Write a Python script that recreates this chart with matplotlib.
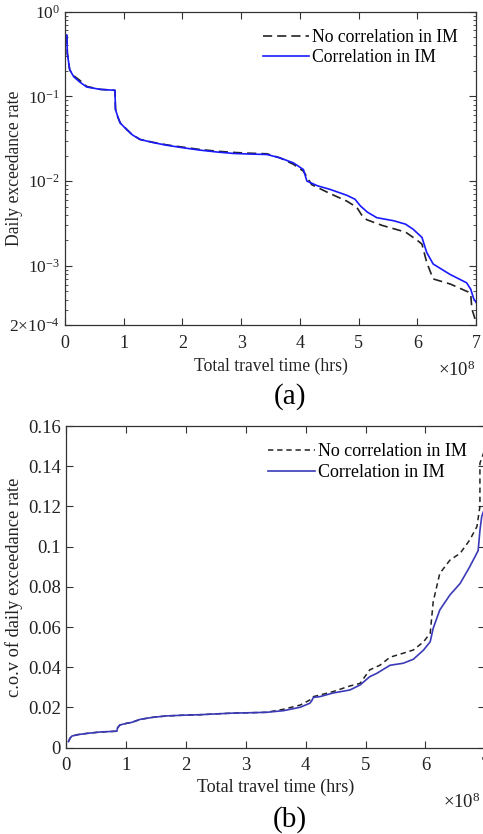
import matplotlib
matplotlib.use("Agg")
import matplotlib.pyplot as plt
from matplotlib.ticker import FixedLocator, LogLocator, NullFormatter

# ---------------------------------------------------------
# DATA (x in units of 1e8 hrs)
# ---------------------------------------------------------
# (a) daily exceedance rate
A_CORR_X = [0.03, 0.04, 0.08, 0.15, 0.25, 0.37, 0.6, 0.85, 0.86, 0.9, 0.94, 1.05,
            1.15, 1.28, 1.5, 1.73, 2.0, 2.3, 2.6, 2.87, 3.1, 3.44, 3.66, 3.89, 4.06,
            4.12, 4.3, 4.51, 4.8, 4.94, 5.03, 5.15, 5.31, 5.6, 5.8, 5.93, 6.08, 6.16,
            6.27, 6.56, 6.84, 6.91, 6.96, 7.0]
A_CORR_Y = [0.53, 0.32, 0.206, 0.17, 0.148, 0.129, 0.121, 0.118, 0.07, 0.057, 0.0486,
            0.0405, 0.035, 0.031, 0.0285, 0.0265, 0.0248, 0.0232, 0.022, 0.0212, 0.0209,
            0.0206, 0.0188, 0.0164, 0.0137, 0.0100, 0.0088, 0.0080, 0.0068, 0.0061,
            0.0051, 0.0043, 0.0037, 0.0034, 0.0031, 0.0027, 0.00216, 0.00144, 0.00105,
            0.00079, 0.00063, 0.00053, 0.00041, 0.00037]

A_NOCORR_X = [0.03, 0.04, 0.08, 0.15, 0.25, 0.37, 0.6, 0.85, 0.86, 0.9, 0.94, 1.05,
              1.15, 1.28, 1.5, 1.73, 2.0, 2.3, 2.6, 2.87, 3.1, 3.44, 3.66, 3.89, 4.06,
              4.2, 4.5, 4.8, 4.97, 5.05, 5.14, 5.4, 5.8, 6.0, 6.08, 6.16, 6.27, 6.56,
              6.87, 6.91, 6.93, 6.98, 7.0]
A_NOCORR_Y = [0.53, 0.32, 0.206, 0.175, 0.155, 0.131, 0.121, 0.118, 0.07, 0.057, 0.0486,
              0.041, 0.035, 0.031, 0.0287, 0.0268, 0.0252, 0.0236, 0.0225, 0.0218,
              0.0214, 0.021, 0.0188, 0.0158, 0.0131, 0.0091, 0.0072, 0.0058, 0.0049,
              0.0040, 0.0035, 0.0030, 0.0025, 0.0020, 0.0018, 0.0011, 0.0007, 0.00061,
              0.00049, 0.00046, 0.00031, 0.00024, 0.00021]

# (b) c.o.v of daily exceedance rate
B_CORR_X = [0.04, 0.07, 0.1, 0.2, 0.35, 0.57, 0.85, 0.86, 0.9, 1.01, 1.1, 1.24, 1.45,
            1.68, 2.0, 2.24, 2.5, 2.79, 3.1, 3.35, 3.63, 3.91, 4.07, 4.1, 4.13, 4.24,
            4.46, 4.74, 4.91, 5.07, 5.19, 5.41, 5.63, 5.80, 5.97, 6.08, 6.13, 6.24,
            6.41, 6.58, 6.74, 6.88, 6.91, 6.94, 7.0]
B_CORR_Y = [0.003, 0.0048, 0.0058, 0.0065, 0.0071, 0.0078, 0.0082, 0.0098, 0.0113,
            0.0121, 0.0126, 0.0141, 0.0151, 0.0158, 0.0162, 0.0164, 0.0168, 0.0172,
            0.0174, 0.0176, 0.0184, 0.0201, 0.0221, 0.0232, 0.0250, 0.0254, 0.0272,
            0.0287, 0.0312, 0.0353, 0.037, 0.041, 0.042, 0.044, 0.0486, 0.0527, 0.0594,
            0.0685, 0.076, 0.0817, 0.090, 0.098, 0.108, 0.115, 0.12]

B_NOCORR_X = [0.04, 0.07, 0.1, 0.2, 0.35, 0.57, 0.85, 0.86, 0.9, 1.01, 1.1, 1.24, 1.45,
              1.68, 2.0, 2.24, 2.5, 2.79, 3.1, 3.35, 3.63, 3.91, 4.07, 4.13, 4.24, 4.46,
              4.74, 4.91, 5.07, 5.24, 5.41, 5.63, 5.80, 5.97, 6.08, 6.13, 6.24, 6.41,
              6.58, 6.74, 6.86, 6.91, 6.91, 6.97, 7.0]
B_NOCORR_Y = [0.003, 0.0048, 0.0058, 0.0065, 0.0071, 0.0078, 0.0082, 0.0098, 0.0113,
              0.0121, 0.0126, 0.0141, 0.0151, 0.0158, 0.0162, 0.0164, 0.0168, 0.0172,
              0.0174, 0.0176, 0.0191, 0.0212, 0.0237, 0.0254, 0.0262, 0.0279, 0.0307,
              0.032, 0.0387, 0.041, 0.045, 0.047, 0.0486, 0.0527, 0.0569, 0.0726,
              0.0867, 0.0933, 0.0967, 0.1033, 0.11, 0.12, 0.1415, 0.1465, 0.15]

X_TICKS = [0, 1, 2, 3, 4, 5, 6, 7]
A_Y_TICKS = [2e-4, 1e-3, 1e-2, 1e-1, 1]
A_Y_LABELS = [r"$2{\times}10^{-4}$", r"$10^{-3}$", r"$10^{-2}$", r"$10^{-1}$", r"$10^{0}$"]
B_Y_TICKS = [0, 0.02, 0.04, 0.06, 0.08, 0.1, 0.12, 0.14, 0.16]
B_Y_LABELS = ["0", "0.02", "0.04", "0.06", "0.08", "0.1", "0.12", "0.14", "0.16"]

LBL_NOCORR = "No correlation in IM"
LBL_CORR = "Correlation in IM"

# ---------------------------------------------------------
# STYLE
# ---------------------------------------------------------
plt.rcParams["font.family"] = ["Liberation Serif", "DejaVu Serif"]
plt.rcParams["mathtext.fontset"] = "custom"
plt.rcParams["mathtext.rm"] = "Liberation Serif"
plt.rcParams["mathtext.it"] = "Liberation Serif:italic"
INK = "#333333"
TXT = "#222222"
FS = 12.7


def style_axes(ax, tick_fs):
    for s in ax.spines.values():
        s.set_color(INK)
        s.set_linewidth(0.9)
    ax.tick_params(which="both", direction="in", top=True, right=True,
                   colors=INK, labelcolor=TXT, labelsize=tick_fs)
    ax.tick_params(which="major", length=5, width=0.8)
    ax.tick_params(which="minor", length=2.5, width=0.6)
    ax.tick_params(axis="x", pad=7)


fig = plt.figure(figsize=(4.83, 8.34), dpi=100)

# ---------------------------------------------------------
# (a)
# ---------------------------------------------------------
ax1 = fig.add_axes([0.1346, 0.6103, 0.8509, 0.3757])
ax1.plot(A_NOCORR_X, A_NOCORR_Y, color=TXT, linestyle=(0, (5.5, 3)),
         linewidth=1.2, label=LBL_NOCORR)
ax1.plot(A_CORR_X, A_CORR_Y, color="#1a1aff", linewidth=1.2, label=LBL_CORR)
ax1.set_yscale("log")
ax1.set_xlim(0, 7)
ax1.set_ylim(2e-4, 1)
ax1.xaxis.set_major_locator(FixedLocator(X_TICKS))
ax1.set_yticks(A_Y_TICKS)
ax1.set_yticklabels(A_Y_LABELS)
ax1.yaxis.set_minor_locator(LogLocator(base=10, subs=range(2, 10), numticks=20))
ax1.yaxis.set_minor_formatter(NullFormatter())
style_axes(ax1, 12.5)
ax1.tick_params(axis="x", labelsize=13)
ax1.set_ylabel("Daily exceedance rate", fontsize=FS, color=TXT)
ax1.yaxis.set_label_coords(-0.102, 0.5)
ax1.set_xlabel("Total travel time (hrs)", fontsize=FS, color=TXT)
ax1.xaxis.set_label_coords(0.5, -0.105)
ax1.text(1.0, -0.144, r"$\times10^{8}$", transform=ax1.transAxes, ha="right",
         va="center", fontsize=13.5, color=TXT)
ax1.legend(loc="upper right", frameon=False, fontsize=FS, handlelength=2.6,
           handletextpad=0.15, borderaxespad=0.3, labelspacing=0.2,
           bbox_to_anchor=(0.985, 0.985))
fig.text(0.6, 0.524, "(a)", fontsize=21, ha="center", va="center")

# ---------------------------------------------------------
# (b)
# ---------------------------------------------------------
ax2 = fig.add_axes([0.1366, 0.1035, 0.8682, 0.3857])
ax2.plot(B_NOCORR_X, B_NOCORR_Y, color=TXT, linestyle=(0, (3.5, 2.5)),
         linewidth=1.1, label=LBL_NOCORR)
ax2.plot(B_CORR_X, B_CORR_Y, color="#3a3ab8", linewidth=1.2, label=LBL_CORR)
ax2.set_xlim(0, 7)
ax2.set_ylim(0, 0.16)
ax2.xaxis.set_major_locator(FixedLocator(X_TICKS))
ax2.set_yticks(B_Y_TICKS)
ax2.set_yticklabels(B_Y_LABELS)
style_axes(ax2, 13.5)
ax2.set_ylabel("c.o.v of daily exceedance rate", fontsize=13.2, color=TXT)
ax2.yaxis.set_label_coords(-0.103, 0.5)
ax2.set_xlabel("Total travel time (hrs)", fontsize=13, color=TXT)
ax2.xaxis.set_label_coords(0.5, -0.097)
ax2.text(0.9885, -0.169, r"$\times10^{8}$", transform=ax2.transAxes, ha="right",
         va="center", fontsize=13.5, color=TXT)
ax2.legend(loc="upper right", frameon=False, fontsize=13, handlelength=2.6,
           handletextpad=0.15, borderaxespad=0.3, labelspacing=0.2,
           bbox_to_anchor=(0.985, 0.985))
fig.text(0.6, 0.017, "(b)", fontsize=21, ha="center", va="center")

fig.savefig("out.png", dpi=100)
